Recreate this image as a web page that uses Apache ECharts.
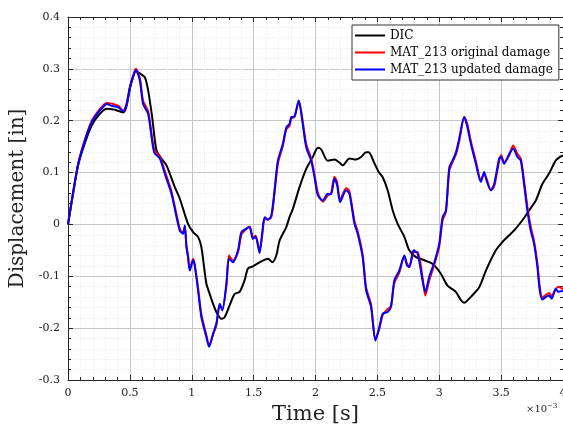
<!DOCTYPE html>
<html><head><meta charset="utf-8">
<script src="https://cdn.jsdelivr.net/npm/echarts@6/dist/echarts.min.js"></script>
<style>html,body{margin:0;padding:0;background:#fff}#c{width:563px;height:430px}</style>
</head><body><div id="c"></div>
<script>
// time in units of 1e-3 s
const tBlue = [0,0.04,0.083,0.137,0.191,0.245,0.29,0.312,0.352,0.406,0.446,0.473,0.5,0.525,0.548,0.581,0.607,0.648,0.696,0.742,0.782,0.836,0.903,0.93,0.944,0.957,0.97,0.984,1.011,1.024,1.051,1.078,1.118,1.14,1.172,1.199,1.226,1.247,1.28,1.301,1.333,1.374,1.401,1.441,1.468,1.494,1.516,1.548,1.57,1.589,1.616,1.643,1.669,1.696,1.736,1.764,1.79,1.804,1.83,1.865,1.893,1.925,1.965,1.992,2.019,2.059,2.099,2.125,2.153,2.175,2.199,2.247,2.274,2.315,2.341,2.381,2.409,2.449,2.484,2.516,2.543,2.583,2.61,2.637,2.677,2.718,2.739,2.758,2.793,2.825,2.865,2.887,2.919,2.96,3.0,3.027,3.054,3.081,3.107,3.135,3.161,3.202,3.228,3.256,3.296,3.336,3.363,3.382,3.417,3.444,3.484,3.5,3.524,3.565,3.597,3.632,3.659,3.685,3.712,3.739,3.766,3.793,3.812,3.833,3.86,3.887,3.909,3.941,3.962,4.0];
const yBlue = [0,0.06,0.117,0.162,0.197,0.216,0.228,0.232,0.229,0.226,0.218,0.232,0.265,0.285,0.298,0.277,0.232,0.213,0.139,0.127,0.098,0.059,-0.012,-0.018,-0.002,-0.044,-0.063,-0.089,-0.069,-0.079,-0.127,-0.179,-0.217,-0.236,-0.211,-0.191,-0.153,-0.166,-0.114,-0.066,-0.073,-0.05,-0.015,-0.008,-0.005,-0.028,-0.024,-0.055,-0.015,0.014,0.009,0.017,0.066,0.123,0.155,0.187,0.194,0.207,0.208,0.239,0.2,0.149,0.123,0.091,0.056,0.046,0.059,0.058,0.088,0.075,0.043,0.066,0.059,0.001,-0.018,-0.063,-0.127,-0.159,-0.224,-0.198,-0.172,-0.169,-0.159,-0.108,-0.089,-0.06,-0.079,-0.082,-0.05,-0.056,-0.108,-0.13,-0.101,-0.073,-0.037,0.014,0.027,0.11,0.123,0.139,0.165,0.207,0.187,0.155,0.117,0.082,0.101,0.085,0.066,0.078,0.127,0.13,0.117,0.136,0.146,0.13,0.123,0.078,0.027,-0.012,-0.037,-0.082,-0.127,-0.145,-0.14,-0.137,-0.143,-0.124,-0.13,-0.128];
const tRed = tBlue;
const yRed = [0,0.06,0.118,0.164,0.199,0.219,0.231,0.234,0.233,0.229,0.219,0.231,0.263,0.285,0.3,0.282,0.238,0.218,0.145,0.131,0.103,0.064,-0.008,-0.016,-0.004,-0.04,-0.06,-0.086,-0.066,-0.077,-0.122,-0.174,-0.213,-0.234,-0.213,-0.194,-0.157,-0.163,-0.118,-0.06,-0.07,-0.053,-0.02,-0.009,-0.004,-0.025,-0.022,-0.05,-0.02,0.01,0.01,0.014,0.06,0.117,0.151,0.183,0.19,0.204,0.207,0.238,0.205,0.155,0.127,0.096,0.061,0.044,0.056,0.06,0.092,0.081,0.047,0.07,0.064,0.006,-0.013,-0.058,-0.121,-0.155,-0.222,-0.201,-0.175,-0.163,-0.158,-0.113,-0.093,-0.062,-0.075,-0.082,-0.054,-0.053,-0.102,-0.137,-0.108,-0.078,-0.042,0.008,0.024,0.103,0.12,0.135,0.16,0.207,0.192,0.16,0.122,0.086,0.097,0.089,0.066,0.073,0.122,0.134,0.12,0.133,0.152,0.136,0.127,0.085,0.035,-0.004,-0.032,-0.075,-0.12,-0.141,-0.136,-0.132,-0.138,-0.125,-0.12,-0.125];
const tDIC = [0,0.04,0.083,0.137,0.19,0.245,0.312,0.379,0.446,0.473,0.5,0.525,0.548,0.594,0.621,0.648,0.68,0.715,0.755,0.796,0.863,0.903,0.97,1.011,1.051,1.078,1.118,1.145,1.172,1.199,1.239,1.266,1.306,1.347,1.387,1.427,1.454,1.494,1.548,1.616,1.651,1.683,1.71,1.764,1.79,1.817,1.871,1.925,1.978,2.019,2.045,2.099,2.153,2.19,2.22,2.274,2.328,2.368,2.409,2.43,2.476,2.511,2.543,2.583,2.624,2.664,2.718,2.758,2.812,2.879,2.946,3.013,3.067,3.134,3.175,3.202,3.242,3.323,3.377,3.457,3.51,3.565,3.618,3.672,3.726,3.78,3.833,3.887,3.941,3.981,4.0];
const yDIC = [0,0.058,0.115,0.157,0.19,0.21,0.223,0.221,0.216,0.228,0.262,0.283,0.296,0.289,0.284,0.258,0.207,0.143,0.127,0.114,0.072,0.05,0.001,-0.015,-0.024,-0.044,-0.114,-0.134,-0.153,-0.169,-0.182,-0.179,-0.156,-0.134,-0.13,-0.108,-0.085,-0.081,-0.073,-0.066,-0.073,-0.06,-0.031,-0.005,0.014,0.03,0.072,0.107,0.13,0.148,0.145,0.123,0.125,0.12,0.114,0.127,0.125,0.13,0.139,0.139,0.118,0.101,0.091,0.066,0.027,0.001,-0.024,-0.05,-0.063,-0.069,-0.076,-0.095,-0.118,-0.13,-0.146,-0.151,-0.143,-0.121,-0.089,-0.05,-0.034,-0.021,-0.008,0.008,0.027,0.046,0.078,0.098,0.123,0.131,0.133];
const seriesNames = ['DIC','MAT_213 original damage','MAT_213 updated damage'];
const yTicks = [-0.3,-0.2,-0.1,0,0.1,0.2,0.3,0.4];
const xTicks = [0,0.5,1,1.5,2,2.5,3,3.5,4];

const zip = (t,y)=>t.map((v,i)=>[v,y[i]]);
const FONT = 'DejaVu Serif';
const chart = echarts.init(document.getElementById('c'), null, {renderer:'canvas'});
const axisCol = '#262626';
const baseX = {
  type:'value', min:xTicks[0], max:xTicks[xTicks.length-1], interval:0.5,
  axisLine:{show:true, onZero:false, lineStyle:{color:axisCol, width:1}},
  axisTick:{show:true, inside:true, length:5, lineStyle:{color:axisCol}},
  minorTick:{show:true, splitNumber:5, length:3, lineStyle:{color:axisCol}},
};
const baseY = {
  type:'value', min:yTicks[0], max:yTicks[yTicks.length-1], interval:0.1,
  axisLine:{show:true, onZero:false, lineStyle:{color:axisCol, width:1}},
  axisTick:{show:true, inside:true, length:5, lineStyle:{color:axisCol}},
  minorTick:{show:true, splitNumber:5, length:3, lineStyle:{color:axisCol}},
};
chart.setOption({
  animation:false,
  backgroundColor:'#fff',
  grid:{left:68, top:17, right:0, bottom:50, containLabel:false, outerBoundsMode:'none'},
  legend:{
    orient:'vertical', left:352, top:25, padding:[4,6,4,3], itemGap:4,
    itemWidth:30, itemHeight:2, icon:'rect',
    backgroundColor:'#fff', borderColor:'#333', borderWidth:1,
    textStyle:{fontFamily:FONT, fontSize:12, color:'#000', lineHeight:13},
    data:seriesNames
  },
  xAxis:[
    Object.assign({}, baseX, {
      position:'bottom', name:'Time [s]', nameLocation:'middle', nameGap:21,
      nameTextStyle:{fontFamily:FONT, fontSize:21, color:'#222'},
      axisLabel:{fontFamily:FONT, fontSize:11, color:'#222', margin:8,
        formatter:v=>String(v)},
      splitLine:{show:true, lineStyle:{color:'#c6c6c6', width:1}},
      minorSplitLine:{show:true, lineStyle:{color:'#eeeeee', type:'dotted', width:1}}
    }),
    Object.assign({}, baseX, {position:'top', axisLabel:{show:false}, splitLine:{show:false}})
  ],
  yAxis:[
    Object.assign({}, baseY, {
      position:'left', name:'Displacement [in]', nameLocation:'middle', nameGap:38,
      nameTextStyle:{fontFamily:FONT, fontSize:20, color:'#222'},
      axisLabel:{fontFamily:FONT, fontSize:11, color:'#222', margin:8,
        formatter:v=>String(Math.round(v*10)/10)},
      splitLine:{show:true, lineStyle:{color:'#c6c6c6', width:1}},
      minorSplitLine:{show:true, lineStyle:{color:'#eeeeee', type:'dotted', width:1}}
    }),
    Object.assign({}, baseY, {position:'right', axisLabel:{show:false}, splitLine:{show:false}})
  ],
  series:[
    {name:seriesNames[0], type:'line', data:zip(tDIC,yDIC), symbol:'none', smooth:0.25,
     lineStyle:{color:'#000', width:2}, itemStyle:{color:'#000'}},
    {name:seriesNames[1], type:'line', data:zip(tRed,yRed), symbol:'none', smooth:0.25,
     lineStyle:{color:'#ff0000', width:2}, itemStyle:{color:'#ff0000'}},
    {name:seriesNames[2], type:'line', data:zip(tBlue,yBlue), symbol:'none', smooth:0.25,
     lineStyle:{color:'#0000ff', width:2}, itemStyle:{color:'#0000ff'}}
  ],
  graphic:[{
    type:'text', left:526, top:403,
    style:{text:'×10{s|−3}', fontFamily:FONT, fontSize:10, fill:'#222',
      rich:{s:{fontFamily:FONT, fontSize:7, fill:'#222', verticalAlign:'top', padding:[0,0,6,0]}}}
  }]
});
</script></body></html>
